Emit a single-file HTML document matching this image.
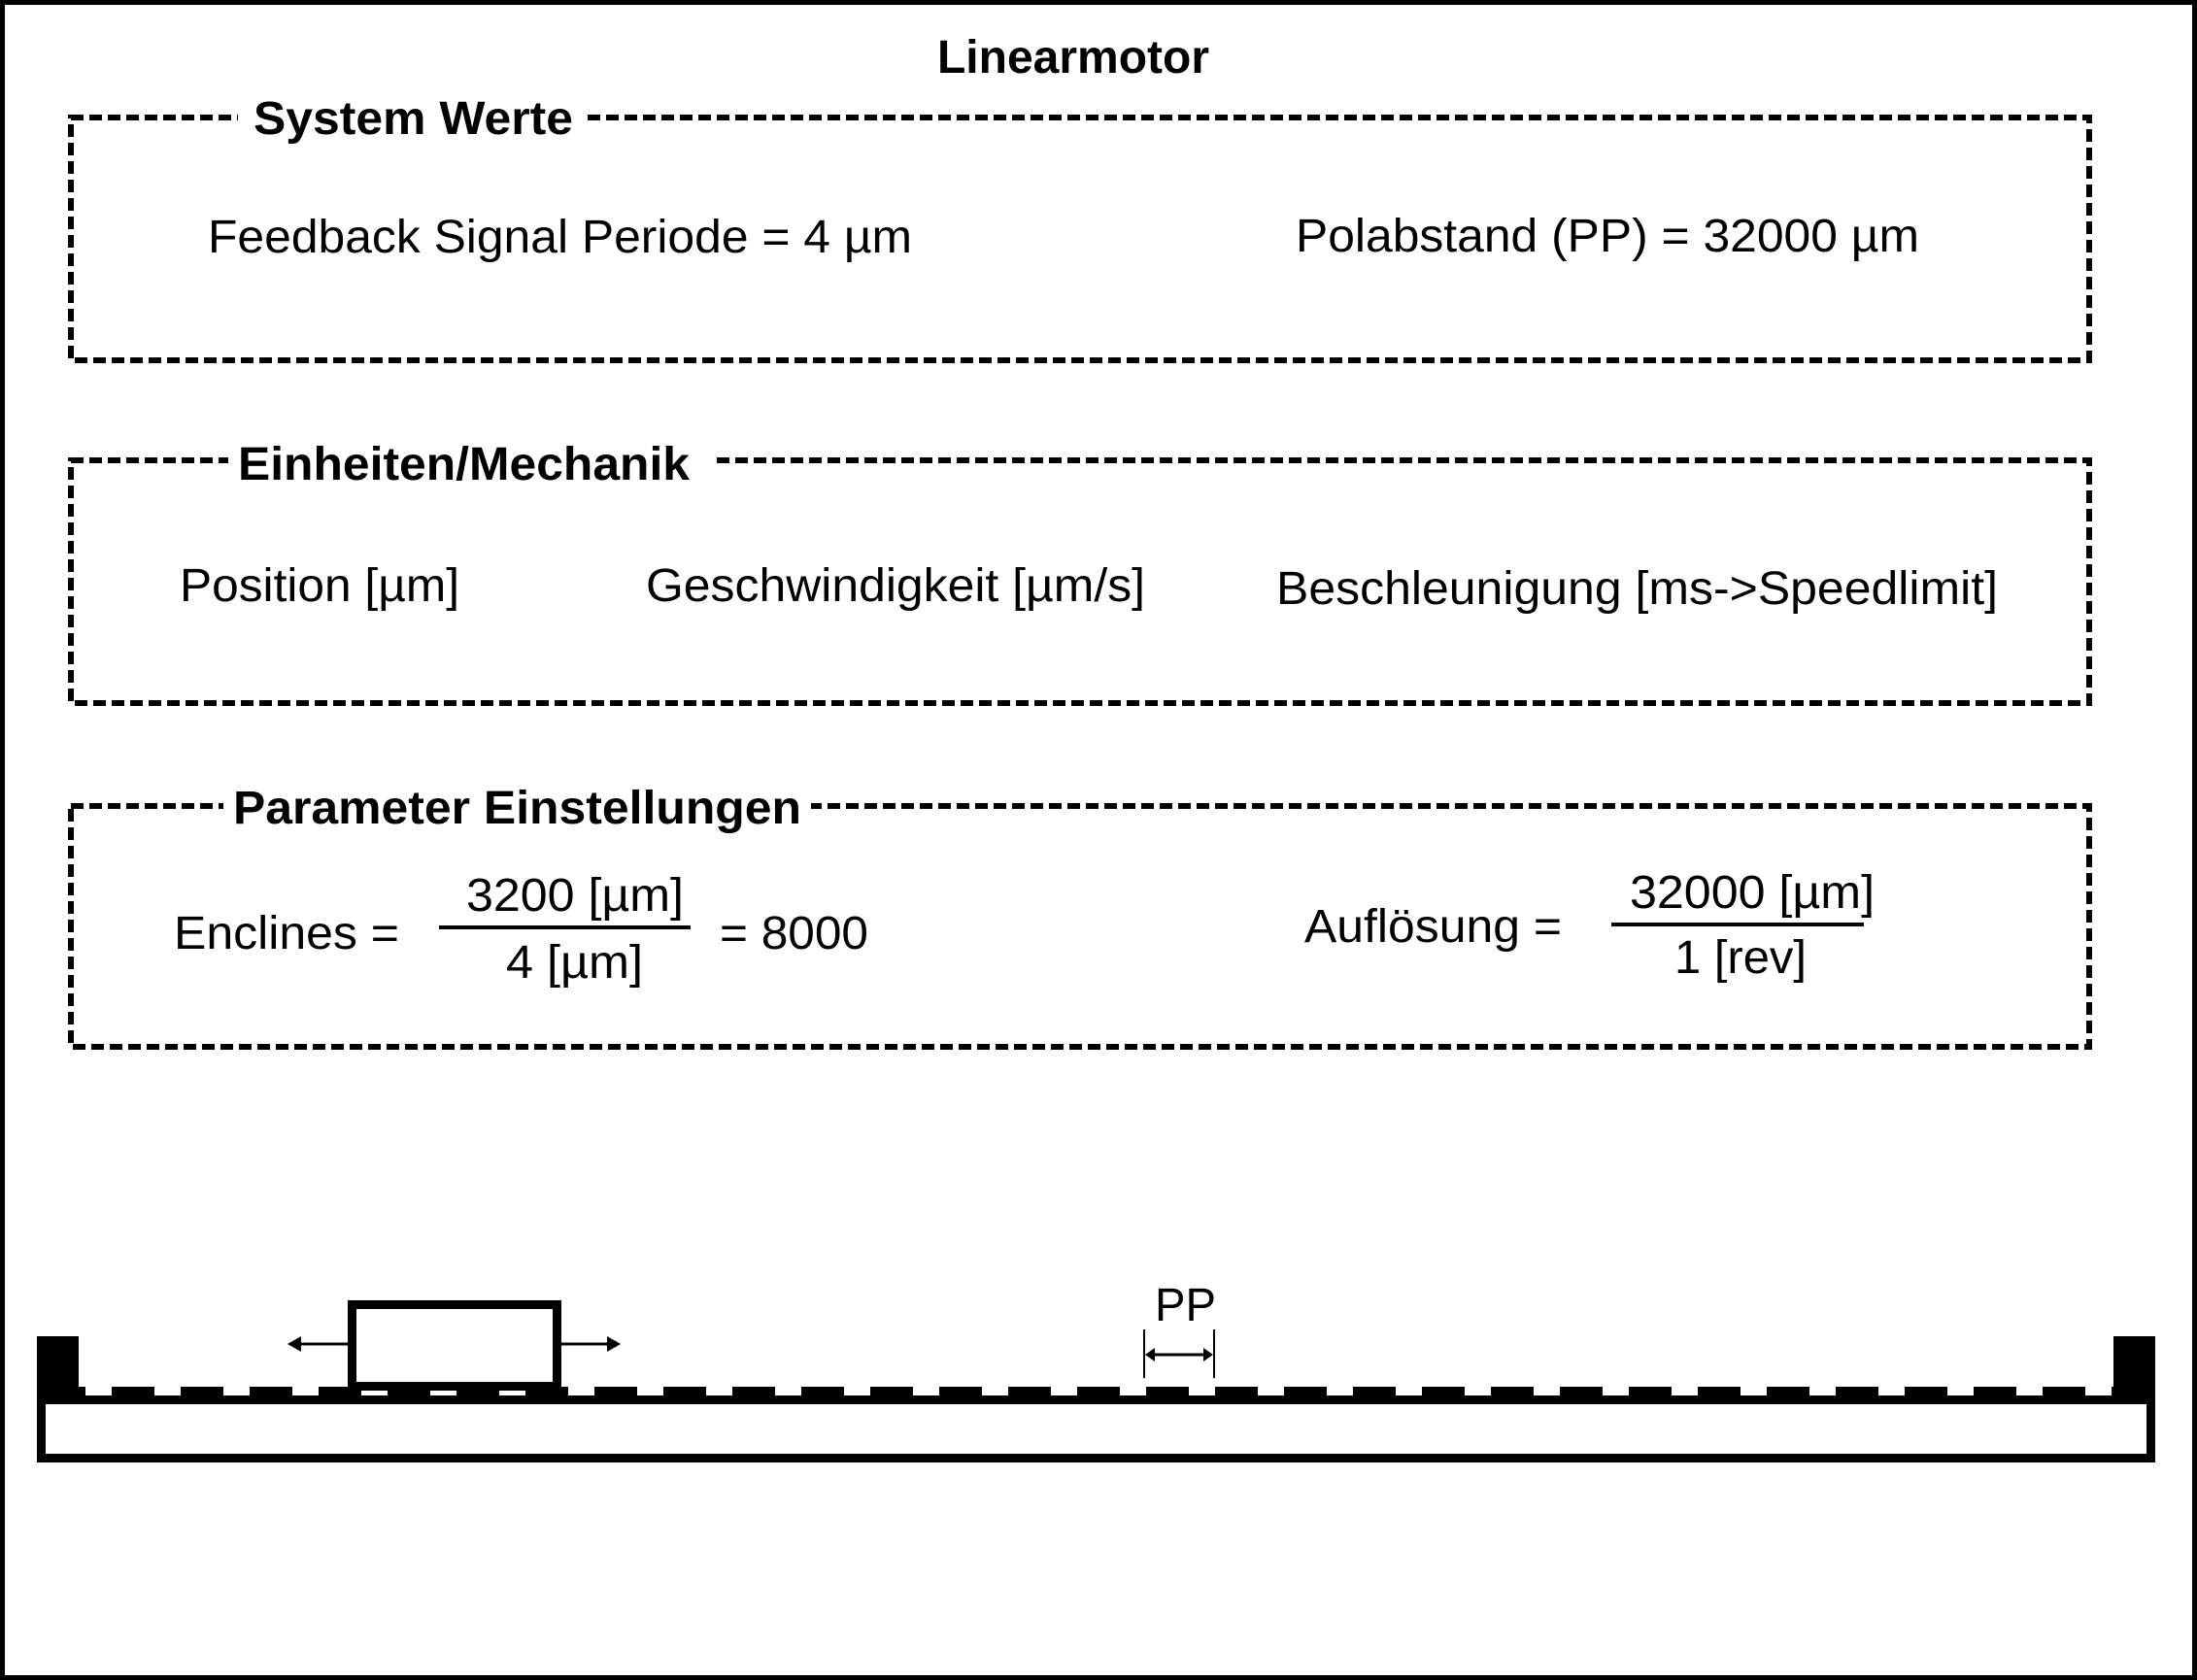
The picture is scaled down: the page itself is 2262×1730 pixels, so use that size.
<!DOCTYPE html>
<html><head><meta charset="utf-8"><style>
html,body{margin:0;padding:0;background:#fff}
svg{display:block}
text{font-family:"Liberation Sans",Arial,sans-serif;fill:#000}
.b{font-weight:bold}
</style></head><body>
<svg width="2262" height="1730" viewBox="0 0 2262 1730" xmlns="http://www.w3.org/2000/svg">
<rect x="2.5" y="2.5" width="2257" height="1725" fill="#fff" stroke="#000" stroke-width="5"/>
<text class="b" x="1105" y="75" font-size="48" text-anchor="middle">Linearmotor</text>

<g fill="none" stroke="#000" stroke-width="6" stroke-dasharray="13 6">
<rect x="73" y="121" width="2078" height="250"/>
<rect x="73" y="474" width="2078" height="250"/>
<rect x="73" y="830" width="2078" height="248"/>
</g>
<rect x="245" y="100" width="355" height="50" fill="#fff"/>
<rect x="235" y="452" width="500" height="50" fill="#fff"/>
<rect x="230" y="808" width="605" height="50" fill="#fff"/>

<text class="b" x="261" y="138" font-size="48" textLength="329" lengthAdjust="spacingAndGlyphs">System Werte</text>
<text x="214" y="260" font-size="48" textLength="725" lengthAdjust="spacingAndGlyphs">Feedback Signal Periode = 4 µm</text>
<text x="1334" y="259" font-size="48" textLength="642" lengthAdjust="spacingAndGlyphs">Polabstand (PP) = 32000 µm</text>

<text class="b" x="245" y="494" font-size="48" textLength="465" lengthAdjust="spacingAndGlyphs">Einheiten/Mechanik</text>
<text x="185" y="619" font-size="48" textLength="288" lengthAdjust="spacingAndGlyphs">Position [µm]</text>
<text x="665" y="619" font-size="48" textLength="514" lengthAdjust="spacingAndGlyphs">Geschwindigkeit [µm/s]</text>
<text x="1314" y="622" font-size="48" textLength="743" lengthAdjust="spacingAndGlyphs">Beschleunigung [ms-&gt;Speedlimit]</text>

<text class="b" x="240" y="848" font-size="48" textLength="585" lengthAdjust="spacingAndGlyphs">Parameter Einstellungen</text>
<text x="179" y="977" font-size="48" textLength="232" lengthAdjust="spacingAndGlyphs">Enclines =</text>
<text x="480" y="938" font-size="48" textLength="224" lengthAdjust="spacingAndGlyphs">3200 [µm]</text>
<rect x="452" y="953" width="259" height="4" fill="#000"/>
<text x="521" y="1007" font-size="48" textLength="141" lengthAdjust="spacingAndGlyphs">4 [µm]</text>
<text x="741" y="977" font-size="48" textLength="153" lengthAdjust="spacingAndGlyphs">= 8000</text>

<text x="1343" y="970" font-size="48" textLength="265" lengthAdjust="spacingAndGlyphs">Auflösung =</text>
<text x="1678" y="935" font-size="48" textLength="252" lengthAdjust="spacingAndGlyphs">32000 [µm]</text>
<rect x="1659" y="950" width="260" height="4" fill="#000"/>
<text x="1724" y="1002" font-size="48" textLength="136" lengthAdjust="spacingAndGlyphs">1 [rev]</text>

<!-- motor -->
<rect x="38" y="1376" width="43" height="62" fill="#000"/>
<rect x="2176" y="1376" width="43" height="62" fill="#000"/>
<rect x="42.5" y="1441.5" width="2172" height="60" fill="none" stroke="#000" stroke-width="9"/>
<line x1="81" y1="1432.5" x2="2176" y2="1432.5" stroke="#000" stroke-width="9" stroke-dasharray="44 27" stroke-dashoffset="-34"/>
<rect x="362.5" y="1343.5" width="211" height="84" fill="#fff" stroke="#000" stroke-width="9"/>
<rect x="358" y="1428" width="14" height="9" fill="#000"/>
<line x1="300" y1="1384" x2="358" y2="1384" stroke="#000" stroke-width="3"/>
<polygon points="296,1384 310,1376 310,1392" fill="#000"/>
<line x1="578" y1="1384" x2="635" y2="1384" stroke="#000" stroke-width="3"/>
<polygon points="639,1384 625,1376 625,1392" fill="#000"/>

<text x="1189" y="1360" font-size="48" textLength="63" lengthAdjust="spacingAndGlyphs">PP</text>
<line x1="1178" y1="1369" x2="1178" y2="1419" stroke="#000" stroke-width="2"/>
<line x1="1250" y1="1369" x2="1250" y2="1419" stroke="#000" stroke-width="2"/>
<line x1="1184" y1="1395" x2="1244" y2="1395" stroke="#000" stroke-width="3"/>
<polygon points="1179,1395 1189,1388 1189,1402" fill="#000"/>
<polygon points="1249,1395 1239,1388 1239,1402" fill="#000"/>
</svg>
</body></html>
